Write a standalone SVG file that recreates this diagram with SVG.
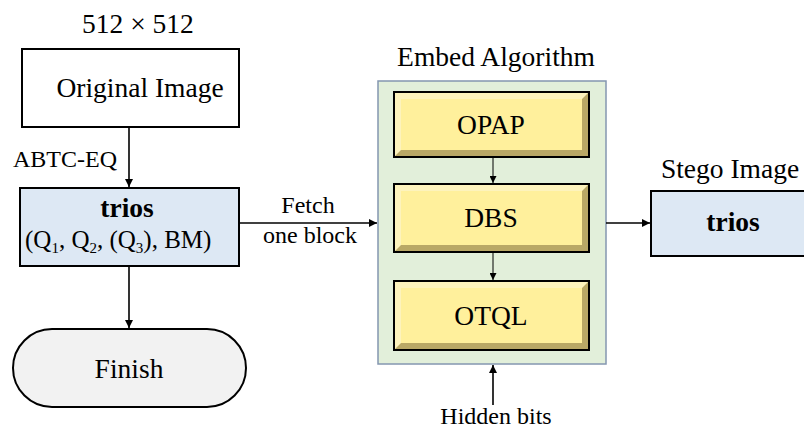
<svg xmlns="http://www.w3.org/2000/svg" width="804" height="430" viewBox="0 0 804 430" font-family="'Liberation Serif', 'Times New Roman', 'DejaVu Serif', serif">
<defs>
<style>
text{font-family:"Liberation Serif","Times New Roman","DejaVu Serif",serif;fill:#000;font-size:27.5px;}
.s{font-size:24px;}
.q{font-size:25px;}
.b{font-weight:bold;}
.sub{font-size:15px;}
.box{stroke:#000;stroke-width:2;}
.conn{stroke:#000;stroke-width:1.6;fill:none;}
.thin{stroke:#000;stroke-width:1;fill:none;}
.bv-fill{fill:#fff09c;}
.bv-lt{fill:#fdf3bd;}
.bv-dk{fill:#b9a866;}
</style>
<marker id="ah" viewBox="0 0 10 10" refX="10" refY="5" markerWidth="8" markerHeight="8" markerUnits="userSpaceOnUse" orient="auto">
<path d="M0,0 L10,5 L0,10 Z" fill="#000"/>
</marker>
<marker id="ahs" viewBox="0 0 10 10" refX="10" refY="5" markerWidth="7" markerHeight="7" markerUnits="userSpaceOnUse" orient="auto">
<path d="M0,0 L10,5 L0,10 Z" fill="#000"/>
</marker>
</defs>

<g id="size-label">
<text x="138" y="33" text-anchor="middle">512 × 512</text>
</g>

<g id="original-image">
<rect class="box" x="22" y="49" width="217" height="78" fill="#fff"/>
<text x="140" y="97" text-anchor="middle">Original Image</text>
</g>

<g id="trios-left">
<rect class="box" x="20" y="188" width="219" height="78" fill="#dde8f4"/>
<text class="b" x="127" y="217" text-anchor="middle">trios</text>
<text class="q" x="25" y="248">(Q<tspan class="sub" dy="5">1</tspan><tspan dy="-5">, Q</tspan><tspan class="sub" dy="5">2</tspan><tspan dy="-5">, (Q</tspan><tspan class="sub" dy="5">3</tspan><tspan dy="-5">), BM)</tspan></text>
</g>

<g id="finish">
<rect class="box" x="13" y="329" width="233" height="78" rx="39" ry="39" fill="#f2f2f2"/>
<text x="129" y="378" text-anchor="middle">Finish</text>
</g>

<g id="embed-algorithm">
<text x="496" y="66" text-anchor="middle">Embed Algorithm</text>
<rect x="378" y="81" width="228" height="283" fill="#e2efda" stroke="#8497b0" stroke-width="1.5"/>
</g>

<g id="opap">
<rect x="393" y="91" width="197" height="67" fill="#000"/>
<rect class="bv-dk" x="395" y="93" width="193" height="63"/>
<polygon class="bv-lt" points="395,93 588,93 582,99 401,99 401,150 395,156"/>
<rect class="bv-fill" x="401" y="99" width="181" height="51"/>
<text x="491" y="134" text-anchor="middle">OPAP</text>
</g>

<g id="dbs">
<rect x="393" y="183" width="197" height="70" fill="#000"/>
<rect class="bv-dk" x="395" y="185" width="193" height="66"/>
<polygon class="bv-lt" points="395,185 588,185 582,191 401,191 401,245 395,251"/>
<rect class="bv-fill" x="401" y="191" width="181" height="54"/>
<text x="491" y="227" text-anchor="middle">DBS</text>
</g>

<g id="otql">
<rect x="393" y="280" width="197" height="71" fill="#000"/>
<rect class="bv-dk" x="395" y="282" width="193" height="67"/>
<polygon class="bv-lt" points="395,282 588,282 582,288 401,288 401,343 395,349"/>
<rect class="bv-fill" x="401" y="288" width="181" height="55"/>
<text x="491" y="325" text-anchor="middle">OTQL</text>
</g>

<g id="stego-image">
<text x="730" y="178" text-anchor="middle">Stego Image</text>
<rect class="box" x="651" y="191" width="160" height="65" fill="#dde8f4"/>
<text class="b" x="733" y="231" text-anchor="middle">trios</text>
</g>

<g id="hidden-bits">
<text class="s" x="496" y="424" text-anchor="middle">Hidden bits</text>
</g>

<g id="connectors">
<line class="conn" x1="129" y1="127" x2="129" y2="187" marker-end="url(#ah)"/>
<text class="s" x="13" y="167">ABTC-EQ</text>
<line class="conn" x1="129" y1="266" x2="129" y2="328" marker-end="url(#ah)"/>
<line class="conn" x1="239" y1="223" x2="377" y2="223" marker-end="url(#ah)"/>
<text class="s" x="308" y="213" text-anchor="middle">Fetch</text>
<text class="s" x="310" y="243" text-anchor="middle">one block</text>
<line class="thin" x1="493" y1="158" x2="493" y2="183" marker-end="url(#ahs)"/>
<line class="thin" x1="493" y1="253" x2="493" y2="280" marker-end="url(#ahs)"/>
<line class="conn" x1="493" y1="405" x2="493" y2="365" marker-end="url(#ah)"/>
<line class="conn" x1="606" y1="223" x2="650" y2="223" marker-end="url(#ah)"/>
</g>
</svg>
